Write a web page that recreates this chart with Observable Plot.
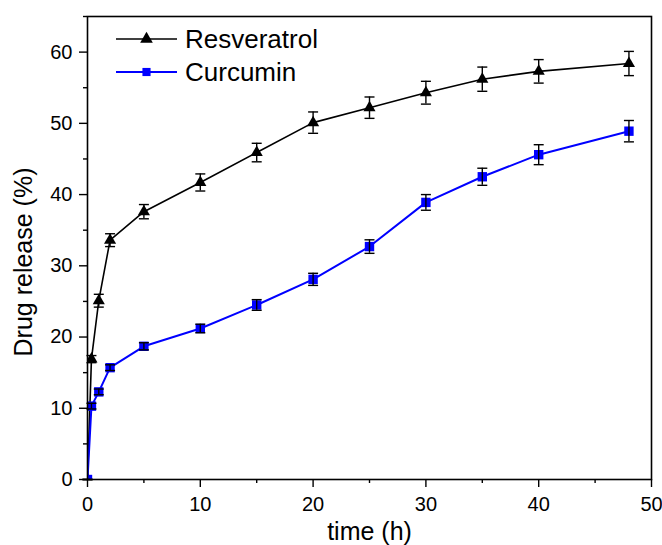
<!DOCTYPE html>
<html>
<head>
<meta charset="utf-8">
<script src="https://cdn.jsdelivr.net/npm/d3@7"></script>
<script src="https://cdn.jsdelivr.net/npm/@observablehq/plot@0.6"></script>
<style>
  html, body { margin: 0; padding: 0; background: #fff; }
  #chart { width: 662px; height: 545px; }
</style>
</head>
<body>
<div id="chart"></div>
<script>
// ---- data ----
const times = [0, 0.35, 1, 2, 5, 10, 15, 20, 25, 30, 35, 40, 48];
const resveratrol    = [0, 16.9, 25.1, 33.6, 37.6, 41.7, 45.9, 50.1, 52.2, 54.3, 56.2, 57.3, 58.4];
const resveratrolErr = [0, 0.5, 0.9, 0.9, 1.0, 1.2, 1.3, 1.5, 1.5, 1.6, 1.7, 1.65, 1.7];
const curcumin    = [0, 10.3, 12.3, 15.7, 18.7, 21.2, 24.5, 28.1, 32.7, 38.9, 42.5, 45.6, 48.9];
const curcuminErr = [0, 0.4, 0.4, 0.4, 0.5, 0.6, 0.75, 0.85, 0.95, 1.1, 1.2, 1.4, 1.5];
const seriesNames = ["Resveratrol", "Curcumin"];
const xMajorTicks = [0, 10, 20, 30, 40, 50];
const xMinorTicks = [5, 15, 25, 35, 45];
const yMajorTicks = [0, 10, 20, 30, 40, 50, 60];
const yMinorTicks = [5, 15, 25, 35, 45, 55, 65];
const xTitle = "time (h)";
const yTitle = "Drug release (%)";

const rows = (vals, errs) => times.map((t, i) => ({t, v: vals[i], lo: vals[i] - errs[i], hi: vals[i] + errs[i]}));
const resData = rows(resveratrol, resveratrolErr);
const curData = rows(curcumin, curcuminErr);

const cap = {draw(ctx) { ctx.moveTo(-5, 0); ctx.lineTo(5, 0); }};
const FONT = "'Liberation Sans', Arial, Helvetica, sans-serif";

function errorBars(data) {
  return [
    Plot.ruleX(data, {x: "t", y1: "lo", y2: "hi", stroke: "black", strokeWidth: 1.4}),
    Plot.dot(data, {x: "t", y: "lo", symbol: cap, stroke: "black", strokeWidth: 1.4}),
    Plot.dot(data, {x: "t", y: "hi", symbol: cap, stroke: "black", strokeWidth: 1.4})
  ];
}

const plot = Plot.plot({
  width: 662,
  height: 545,
  marginLeft: 87,
  marginRight: 11,
  marginTop: 16,
  marginBottom: 66,
  style: {fontFamily: FONT, color: "black", background: "white"},
  x: {domain: [0, 50], label: null},
  y: {domain: [0, 65], label: null},
  marks: [
    Plot.axisX({ticks: xMajorTicks, tickSize: 8, tickPadding: 9, fontSize: 20, label: null, strokeWidth: 1.4}),
    Plot.axisX({ticks: xMinorTicks, tickSize: 4, tickFormat: () => "", label: null, strokeWidth: 1.4}),
    Plot.axisY({ticks: yMajorTicks, tickSize: 8, tickPadding: 7, fontSize: 20, label: null, strokeWidth: 1.4}),
    Plot.axisY({ticks: yMinorTicks, tickSize: 4, tickFormat: () => "", label: null, strokeWidth: 1.4}),
    Plot.line(resData, {x: "t", y: "v", stroke: "black", strokeWidth: 1.6, clip: true}),
    Plot.dot(resData, {x: "t", y: "v", symbol: "triangle", r: 4.5, fill: "black", clip: true}),
    ...errorBars(resData),
    Plot.line(curData, {x: "t", y: "v", stroke: "#0000ff", strokeWidth: 2, clip: true}),
    Plot.dot(curData, {x: "t", y: "v", symbol: "square", r: 5.3, fill: "#0000ff", clip: true}),
    ...errorBars(curData),
    Plot.frame({stroke: "black", strokeWidth: 1.6}),
    Plot.text([xTitle], {frameAnchor: "bottom", textAnchor: "middle", lineAnchor: "bottom", dy: 60, fontSize: 25, fill: "black"}),
    Plot.text([yTitle], {frameAnchor: "left", textAnchor: "middle", lineAnchor: "middle", dx: -64, dy: 14, rotate: -90, fontSize: 25, fill: "black"})
  ]
});

// legend (inside the frame, top-left), drawn onto the same SVG
const svg = d3.select(plot);
const legendItems = [
  {name: seriesNames[0], color: "black", width: 1.6, sym: d3.symbolTriangle, size: Math.PI * 4.7 * 4.7, y: 39},
  {name: seriesNames[1], color: "#0000ff", width: 2, sym: d3.symbolSquare, size: Math.PI * 5.3 * 5.3 * 0.75, y: 72}
];
const lg = svg.append("g").attr("font-family", FONT).attr("text-anchor", "start");
legendItems.forEach(it => {
  lg.append("line").attr("x1", 116).attr("x2", 177).attr("y1", it.y).attr("y2", it.y)
    .attr("stroke", it.color).attr("stroke-width", it.width);
  lg.append("path").attr("d", d3.symbol(it.sym, it.size)()).attr("transform", `translate(146.5,${it.y})`)
    .attr("fill", it.color);
  lg.append("text").attr("x", 185).attr("y", it.y).attr("dy", "0.36em")
    .attr("font-size", 26).attr("fill", "black").attr("text-anchor", "start").text(it.name);
});

document.getElementById("chart").appendChild(plot);
</script>
</body>
</html>
